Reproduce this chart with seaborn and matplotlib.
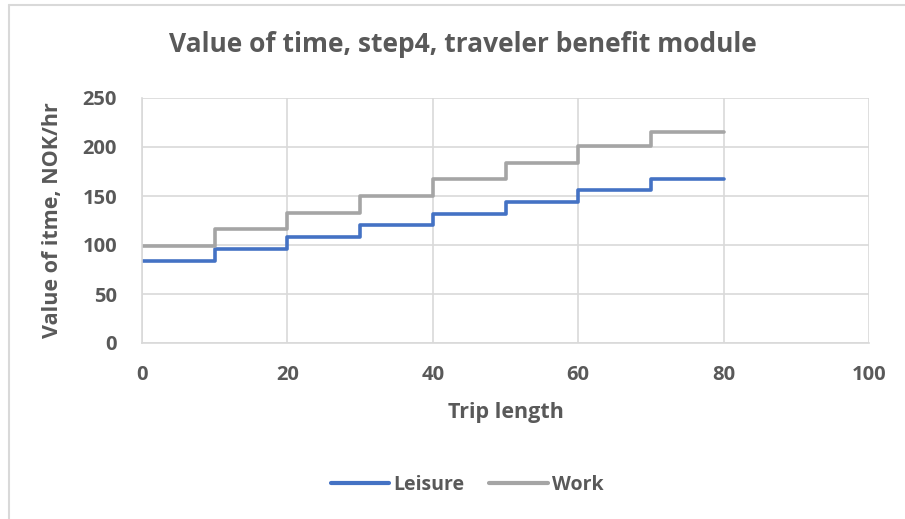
import matplotlib
matplotlib.use("Agg")
import matplotlib.pyplot as plt
from matplotlib.lines import Line2D
import seaborn as sns
import pandas as pd

# Trip length breakpoints (km) and value of time per band (NOK/hr)
trip_length = [0, 10, 20, 30, 40, 50, 60, 70, 80]
leisure = [84, 96, 108, 120, 132, 144, 156, 167, 167]
work = [99, 116, 133, 150, 167, 184, 201, 215, 215]
series_names = ["Leisure", "Work"]
x_ticks = [0, 20, 40, 60, 80, 100]
y_ticks = [0, 50, 100, 150, 200, 250]

TEXT = "#595959"
GRID = "#D9D9D9"
colors = {"Leisure": "#4472C4", "Work": "#A5A5A5"}

df = pd.DataFrame({
    "Trip length": trip_length * 2,
    "Value": leisure + work,
    "Series": [series_names[0]] * len(trip_length) + [series_names[1]] * len(trip_length),
})

sns.set_theme(style="white")
plt.rcParams["font.family"] = ["Open Sans", "DejaVu Sans"]

fig = plt.figure(figsize=(9.05, 5.19), dpi=100)
ax = fig.add_axes([142 / 905, 1 - 343 / 519, (869 - 142) / 905, (343 - 98) / 519])

sns.lineplot(data=df, x="Trip length", y="Value", hue="Series", palette=colors,
             drawstyle="steps-post", linewidth=2.6, ax=ax, legend=False)

ax.set_xlim(0, 100)
ax.set_ylim(0, 250)
ax.set_xticks(x_ticks)
ax.set_yticks(y_ticks)
ax.grid(True, color=GRID, linewidth=1.2)
ax.set_axisbelow(True)
for side, sp in ax.spines.items():
    sp.set_visible(side in ("left", "bottom"))
    sp.set_color(GRID)
    sp.set_linewidth(1.2)
ax.tick_params(axis="both", length=0, labelsize=14.5, colors=TEXT)
ax.tick_params(axis="y", pad=18)
ax.tick_params(axis="x", pad=16)
for lab in ax.get_xticklabels() + ax.get_yticklabels():
    lab.set_fontweight("bold")

ax.set_xlabel("Trip length", fontsize=15.5, fontweight="bold", color=TEXT, labelpad=12)
ax.set_ylabel("Value of itme, NOK/hr", fontsize=15.5, fontweight="bold", color=TEXT, labelpad=14)

fig.text(463 / 905, 1 - 45 / 519, "Value of time, step4, traveler benefit module",
         ha="center", va="center", fontsize=19, fontweight="bold", color=TEXT)

handles = [Line2D([0], [0], color=colors[n], linewidth=3) for n in series_names]
leg = fig.legend(handles, series_names, loc="center", bbox_to_anchor=(467 / 905, 1 - 485 / 519),
                 ncol=2, frameon=False, handlelength=3.0, handletextpad=0.2, columnspacing=1.3,
                 prop={"weight": "bold", "size": 14})
for t in leg.get_texts():
    t.set_color(TEXT)

# chart-area outline along the top and left edges
fig.add_artist(Line2D([9 / 905, 9 / 905], [0, 1 - 5 / 519], transform=fig.transFigure,
                      color="#D9D9D9", linewidth=1.5))
fig.add_artist(Line2D([9 / 905, 1], [1 - 5 / 519, 1 - 5 / 519], transform=fig.transFigure,
                      color="#D9D9D9", linewidth=1.5))

fig.savefig("out.png", dpi=100)
